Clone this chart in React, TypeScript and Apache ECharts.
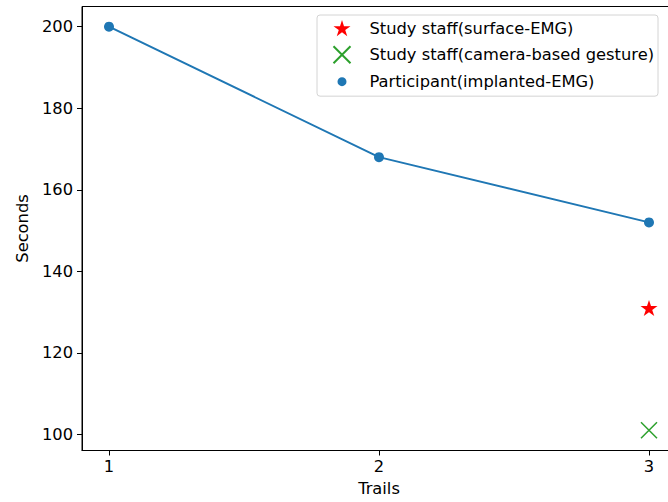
import React, { useEffect, useRef } from "react";
import * as echarts from "echarts";

const trials = [1, 2, 3];
const participantSeconds = [200, 168, 152];
const surfaceEmgTrial = [3];
const surfaceEmgSeconds = [131];
const cameraTrial = [3];
const cameraSeconds = [101];
const xTicks = [1, 2, 3];
const yTicks = [100, 120, 140, 160, 180, 200];

const seriesNames = [
  "Study staff(surface-EMG)",
  "Study staff(camera-based gesture)",
  "Participant(implanted-EMG)",
];

const STAR =
  "path://M0 -10L2.23 -3.07L9.51 -3.09L3.61 1.17L5.88 8.09L0 3.8L-5.88 8.09L-3.61 1.17L-9.51 -3.09L-2.23 -3.07Z";
const CROSS = "path://M0 0L10 10M10 0L0 10";
const LEGEND_CIRCLE =
  "path://M-8.5 -8.5M8.5 8.5M-4.5 0A4.5 4.5 0 1 0 4.5 0A4.5 4.5 0 1 0 -4.5 0Z";

const FONT = "DejaVu Sans";
const FS = 16.3;

export default function App() {
  const ref = useRef<HTMLDivElement>(null);
  useEffect(() => {
    document.body.style.margin = "0";
    document.body.style.overflow = "hidden";
    const chart = echarts.init(ref.current!, null, { renderer: "svg" });
    chart.setOption({
      animation: false,
      backgroundColor: "#ffffff",
      textStyle: { fontFamily: FONT },
      grid: {
        left: 82,
        top: 6.5,
        width: 594,
        height: 444,
        show: true,
        borderColor: "#000",
        borderWidth: 1,
        containLabel: false,
      },
      legend: {
        orient: "vertical",
        left: 317,
        top: 15,
        padding: [5, 4, 6, 14],
        itemWidth: 17,
        itemHeight: 17,
        itemGap: 7.5,
        borderColor: "#d4d4d4",
        borderWidth: 1,
        borderRadius: 3,
        backgroundColor: "rgba(255,255,255,0.8)",
        textStyle: { fontFamily: FONT, fontSize: FS, color: "#000", padding: [0, 0, 0, 14] },
        data: [
          { name: seriesNames[0], icon: STAR },
          { name: seriesNames[1], icon: CROSS },
          { name: seriesNames[2], icon: LEGEND_CIRCLE },
        ],
      },
      xAxis: {
        type: "value",
        min: 0.9,
        max: 3.1,
        name: "Trails",
        nameLocation: "middle",
        nameGap: 30,
        nameTextStyle: { fontFamily: FONT, fontSize: FS, color: "#000" },
        axisLine: { show: true, lineStyle: { color: "#000", width: 1 } },
        axisTick: { show: true, length: 5, lineStyle: { color: "#000" }, customValues: xTicks },
        axisLabel: { fontFamily: FONT, fontSize: FS, color: "#000", margin: 8, customValues: xTicks },
        splitLine: { show: false },
      },
      yAxis: {
        type: "value",
        min: 96.05,
        max: 204.95,
        name: "Seconds",
        nameLocation: "middle",
        nameGap: 52,
        nameTextStyle: { fontFamily: FONT, fontSize: FS, color: "#000" },
        axisLine: { show: true, lineStyle: { color: "#000", width: 1 } },
        axisTick: { show: true, length: 5, lineStyle: { color: "#000" }, customValues: yTicks },
        axisLabel: { fontFamily: FONT, fontSize: FS, color: "#000", margin: 9, customValues: yTicks },
        splitLine: { show: false },
      },
      series: [
        {
          name: "participant-line",
          type: "line",
          data: trials.map((t, i) => [t, participantSeconds[i]]),
          showSymbol: false,
          symbol: "none",
          lineStyle: { color: "#1f77b4", width: 2 },
          silent: true,
          z: 2,
        },
        {
          name: seriesNames[2],
          type: "scatter",
          data: trials.map((t, i) => [t, participantSeconds[i]]),
          symbol: "circle",
          symbolSize: 10,
          itemStyle: { color: "#1f77b4", opacity: 1 },
          z: 3,
        },
        {
          name: seriesNames[0],
          type: "scatter",
          data: surfaceEmgTrial.map((t, i) => [t, surfaceEmgSeconds[i]]),
          symbol: STAR,
          symbolSize: 17,
          symbolKeepAspect: true,
          itemStyle: { color: "#ff0000", opacity: 1 },
          z: 3,
        },
        {
          name: seriesNames[1],
          type: "scatter",
          data: cameraTrial.map((t, i) => [t, cameraSeconds[i]]),
          symbol: CROSS,
          symbolSize: 16,
          itemStyle: { color: "none", borderColor: "#2ca02c", borderWidth: 1.5, opacity: 1 },
          z: 3,
        },
      ],
    });
    return () => chart.dispose();
  }, []);
  return <div ref={ref} style={{ width: 700, height: 502 }} />;
}
